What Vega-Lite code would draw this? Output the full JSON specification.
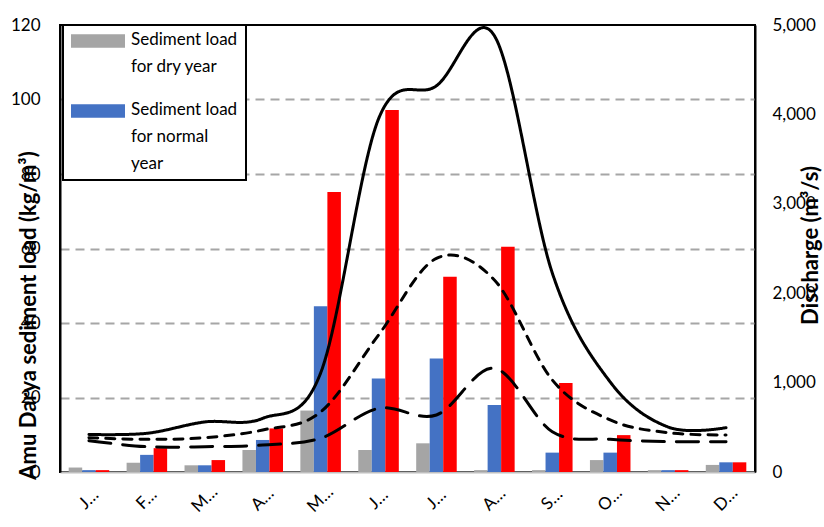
{
  "$schema": "https://vega.github.io/schema/vega-lite/v6.json",
  "width": 695,
  "height": 447,
  "autosize": {"type": "none"},
  "padding": {"left": 60, "top": 25, "right": 69, "bottom": 55},
  "background": "white",
  "config": {"view": {"stroke": "black", "strokeWidth": 2}, "font": "Lato"},
  "datasets": {
    "bars": [
      {"month": "Jan", "series": "dry", "load": 1.2}, {"month": "Jan", "series": "normal", "load": 0.5}, {"month": "Jan", "series": "wet", "load": 0.5},
      {"month": "Feb", "series": "dry", "load": 2.5}, {"month": "Feb", "series": "normal", "load": 4.6}, {"month": "Feb", "series": "wet", "load": 6.4},
      {"month": "Mar", "series": "dry", "load": 1.8}, {"month": "Mar", "series": "normal", "load": 1.8}, {"month": "Mar", "series": "wet", "load": 3.2},
      {"month": "Apr", "series": "dry", "load": 5.9}, {"month": "Apr", "series": "normal", "load": 8.6}, {"month": "Apr", "series": "wet", "load": 11.7},
      {"month": "May", "series": "dry", "load": 16.5}, {"month": "May", "series": "normal", "load": 44.5}, {"month": "May", "series": "wet", "load": 75.2},
      {"month": "Jun", "series": "dry", "load": 5.9}, {"month": "Jun", "series": "normal", "load": 25.1}, {"month": "Jun", "series": "wet", "load": 97.2},
      {"month": "Jul", "series": "dry", "load": 7.7}, {"month": "Jul", "series": "normal", "load": 30.5}, {"month": "Jul", "series": "wet", "load": 52.4},
      {"month": "Aug", "series": "dry", "load": 0.5}, {"month": "Aug", "series": "normal", "load": 18.0}, {"month": "Aug", "series": "wet", "load": 60.5},
      {"month": "Sep", "series": "dry", "load": 0.5}, {"month": "Sep", "series": "normal", "load": 5.2}, {"month": "Sep", "series": "wet", "load": 23.9},
      {"month": "Oct", "series": "dry", "load": 3.2}, {"month": "Oct", "series": "normal", "load": 5.2}, {"month": "Oct", "series": "wet", "load": 9.9},
      {"month": "Nov", "series": "dry", "load": 0.5}, {"month": "Nov", "series": "normal", "load": 0.5}, {"month": "Nov", "series": "wet", "load": 0.5},
      {"month": "Dec", "series": "dry", "load": 1.9}, {"month": "Dec", "series": "normal", "load": 2.6}, {"month": "Dec", "series": "wet", "load": 2.6}
    ],
    "lines": [
      {"month": "Jan", "series": "wet", "discharge": 420}, {"month": "Feb", "series": "wet", "discharge": 433}, {"month": "Mar", "series": "wet", "discharge": 560}, {"month": "Apr", "series": "wet", "discharge": 600},
      {"month": "May", "series": "wet", "discharge": 1107}, {"month": "Jun", "series": "wet", "discharge": 3950}, {"month": "Jul", "series": "wet", "discharge": 4320}, {"month": "Aug", "series": "wet", "discharge": 4880},
      {"month": "Sep", "series": "wet", "discharge": 2226}, {"month": "Oct", "series": "wet", "discharge": 1007}, {"month": "Nov", "series": "wet", "discharge": 503}, {"month": "Dec", "series": "wet", "discharge": 496},
      {"month": "Jan", "series": "normal", "discharge": 384}, {"month": "Feb", "series": "normal", "discharge": 365}, {"month": "Mar", "series": "normal", "discharge": 384}, {"month": "Apr", "series": "normal", "discharge": 470},
      {"month": "May", "series": "normal", "discharge": 671}, {"month": "Jun", "series": "normal", "discharge": 1532}, {"month": "Jul", "series": "normal", "discharge": 2390}, {"month": "Aug", "series": "normal", "discharge": 2148},
      {"month": "Sep", "series": "normal", "discharge": 1029}, {"month": "Oct", "series": "normal", "discharge": 582}, {"month": "Nov", "series": "normal", "discharge": 440}, {"month": "Dec", "series": "normal", "discharge": 414},
      {"month": "Jan", "series": "dry", "discharge": 350}, {"month": "Feb", "series": "dry", "discharge": 283}, {"month": "Mar", "series": "dry", "discharge": 283}, {"month": "Apr", "series": "dry", "discharge": 302},
      {"month": "May", "series": "dry", "discharge": 377}, {"month": "Jun", "series": "dry", "discharge": 712}, {"month": "Jul", "series": "dry", "discharge": 638}, {"month": "Aug", "series": "dry", "discharge": 1160},
      {"month": "Sep", "series": "dry", "discharge": 451}, {"month": "Oct", "series": "dry", "discharge": 366}, {"month": "Nov", "series": "dry", "discharge": 339}, {"month": "Dec", "series": "dry", "discharge": 339}
    ]
  },
  "layer": [
    {
      "data": {"name": "bars"},
      "mark": {"type": "bar"},
      "encoding": {
        "x": {
          "field": "month", "type": "nominal",
          "sort": ["Jan", "Feb", "Mar", "Apr", "May", "Jun", "Jul", "Aug", "Sep", "Oct", "Nov", "Dec"],
          "scale": {"paddingInner": 0.3, "paddingOuter": 0.15},
          "axis": {
            "title": null, "ticks": false, "domainColor": "#bfbfbf", "domainWidth": 2,
            "labelExpr": "substring(datum.label, 0, 1) + '…'",
            "labelAngle": -45, "labelAlign": "center", "labelBaseline": "middle",
            "labelPadding": 27, "labelFontSize": 17, "labelColor": "black", "labelFont": "Lato"
          }
        },
        "xOffset": {"field": "series", "type": "nominal", "sort": ["dry", "normal", "wet"], "scale": {"paddingInner": 0, "paddingOuter": 0}},
        "y": {
          "field": "load", "type": "quantitative",
          "scale": {"domain": [0, 120]},
          "axis": {
            "values": [0, 20, 40, 60, 80, 100, 120], "format": "d",
            "ticks": false, "domainColor": "black", "domainWidth": 2,
            "labelFontSize": 17, "labelPadding": 20, "labelColor": "black", "labelFont": "Lato",
            "grid": true, "gridColor": "#a6a6a6", "gridDash": [9, 6], "gridWidth": 2,
            "gridOpacity": {"condition": {"test": "datum.value == 0 || datum.value == 120", "value": 0}, "value": 1},
            "title": "Amu Darya sediment load (kg/m³)",
            "titleFontSize": 22, "titleFontWeight": "bold", "titleColor": "black", "titleFont": "Lato",
            "titleX": -32, "titleY": 290, "titleAngle": 270, "titleAlign": "center", "titleBaseline": "middle"
          }
        },
        "color": {
          "field": "series", "type": "nominal",
          "scale": {"domain": ["dry", "normal", "wet"], "range": ["#a5a5a5", "#4472c4", "#ff0000"]},
          "legend": {
            "values": ["dry", "normal"],
            "title": null,
            "orient": "none", "legendX": 3, "legendY": 0,
            "strokeColor": "black", "fillColor": "white", "padding": 8,
            "symbolType": "M-1,-0.25H1V0.25H-1Z", "symbolSize": 2916, "symbolStrokeWidth": 0,
            "labelExpr": "datum.label == 'dry' ? ['Sediment load', 'for dry year'] : ['Sediment load', 'for normal', 'year']",
            "labelFontSize": 17, "labelFont": "Lato", "labelColor": "black",
            "labelBaseline": "top", "labelOffset": 6, "rowPadding": 26, "labelLimit": 200,
            "encode": {
              "legend": {"update": {"strokeWidth": {"value": 2}}},
              "symbols": {"update": {"y": {"value": 8}}},
              "labels": {"update": {"y": {"value": -1}, "lineHeight": {"value": 27}}}
            }
          }
        }
      }
    },
    {
      "data": {"name": "lines"},
      "mark": {"type": "line", "interpolate": "cardinal", "color": "black", "strokeWidth": 3, "strokeCap": "round"},
      "encoding": {
        "x": {"field": "month", "type": "nominal", "sort": ["Jan", "Feb", "Mar", "Apr", "May", "Jun", "Jul", "Aug", "Sep", "Oct", "Nov", "Dec"]},
        "y": {
          "field": "discharge", "type": "quantitative",
          "scale": {"domain": [0, 5000]},
          "axis": {
            "orient": "right", "values": [0, 1000, 2000, 3000, 4000, 5000], "format": ",d",
            "ticks": false, "domainColor": "black", "domainWidth": 2, "grid": false,
            "labelFontSize": 17, "labelPadding": 17, "labelColor": "black", "labelFont": "Lato",
            "title": "Discharge (m³/s)",
            "titleFontSize": 22, "titleFontWeight": "bold", "titleColor": "black", "titleFont": "Lato",
            "titleX": 55, "titleY": 220, "titleAngle": 270, "titleAlign": "center", "titleBaseline": "middle"
          }
        },
        "detail": {"field": "series"},
        "strokeDash": {
          "field": "series", "type": "nominal",
          "scale": {"domain": ["wet", "normal", "dry"], "range": [[1, 0], [9, 8], [22, 12]]},
          "legend": null
        }
      }
    }
  ],
  "resolve": {"scale": {"y": "independent"}}
}
